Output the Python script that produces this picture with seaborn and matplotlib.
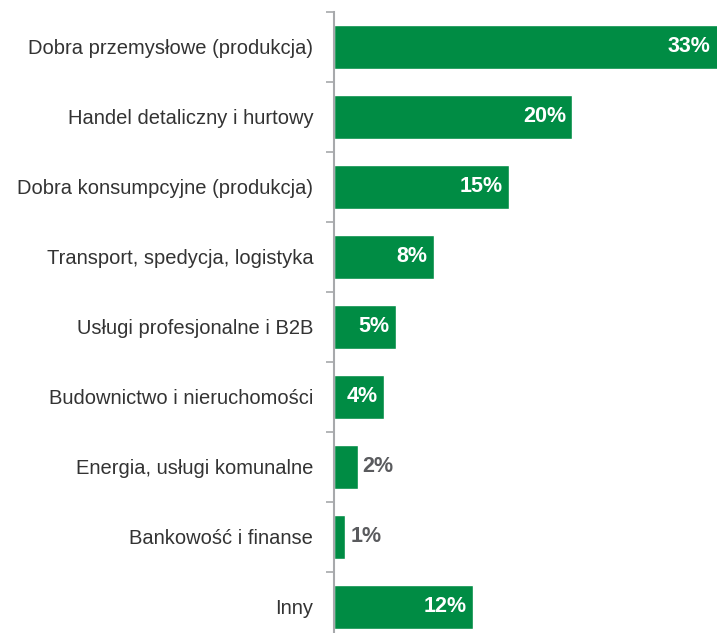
import matplotlib
matplotlib.use("Agg")
import matplotlib.pyplot as plt
import seaborn as sns
import pandas as pd
import numpy as np

# data (bar lengths estimated, labels as printed)
categories = [
    "Dobra przemysłowe (produkcja)",
    "Handel detaliczny i hurtowy",
    "Dobra konsumpcyjne (produkcja)",
    "Transport, spedycja, logistyka",
    "Usługi profesjonalne i B2B",
    "Budownictwo i nieruchomości",
    "Energia, usługi komunalne",
    "Bankowość i finanse",
    "Inny",
]
shares = [33.0, 20.1, 14.8, 8.4, 5.2, 4.2, 2.0, 0.95, 11.7]
share_labels = ["33%", "20%", "15%", "8%", "5%", "4%", "2%", "1%", "12%"]

GREEN = "#008c44"
AXIS_GRAY = "#a7a9ac"
LABEL_GRAY = "#5a5b5e"
X_MAX = 32.3

df = pd.DataFrame({"Sektor": categories, "Udzial": shares})

sns.set_style("white")
plt.rcParams["font.family"] = ["Liberation Sans", "DejaVu Sans"]

fig = plt.figure(figsize=(7.17, 6.33), dpi=100)
ax = fig.add_axes([334 / 717, 1 - 642 / 633, 1 - 334 / 717, 630 / 633])

sns.barplot(data=df, x="Udzial", y="Sektor", color=GREEN, saturation=1,
            width=0.63, ax=ax, orient="h")

ax.set_xlim(0, X_MAX)
ax.set_ylim(8.5, -0.5)
ax.set_xlabel("")
ax.set_ylabel("")
ax.set_xticks([])

# category labels at centres, tick marks at the boundaries
ax.tick_params(axis="y", which="major", length=0, pad=15, labelsize=14.5,
               labelcolor="#333333")
ax.set_yticks(np.arange(-0.5, len(categories)), minor=True)
ax.tick_params(axis="y", which="minor", length=6, width=1.2, color=AXIS_GRAY,
               direction="out", left=True)

for side in ["top", "right", "bottom"]:
    ax.spines[side].set_visible(False)
ax.spines["left"].set_color(AXIS_GRAY)
ax.spines["left"].set_linewidth(1.5)

# value labels
for i, (v, lab) in enumerate(zip(shares, share_labels)):
    end = min(v, X_MAX)
    if v >= 4:
        ax.annotate(lab, (end, i), xytext=(-4.5, 0), textcoords="offset points",
                    ha="right", va="center", color="white", fontsize=15.5,
                    fontweight="bold", annotation_clip=False)
    else:
        ax.annotate(lab, (end, i), xytext=(3.5, 0), textcoords="offset points",
                    ha="left", va="center", color=LABEL_GRAY, fontsize=15.5,
                    fontweight="bold")

fig.savefig("out.png", dpi=100)
